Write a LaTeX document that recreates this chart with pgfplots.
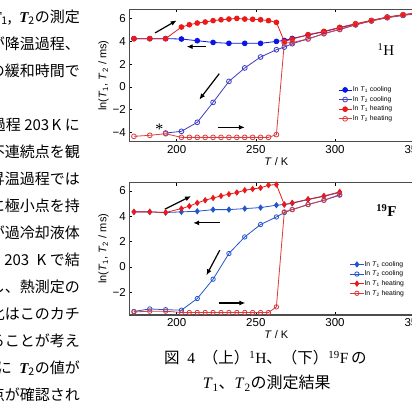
\documentclass[border=0pt]{standalone}
\usepackage{fontspec}
\setmainfont{Liberation Serif}
\setsansfont{Liberation Sans}
\newfontfamily\jp{Noto Sans CJK JP}
\usepackage{pgfplots}
\pgfplotsset{compat=1.18}
\usetikzlibrary{arrows.meta}

\definecolor{cblue}{RGB}{10,20,230}
\definecolor{oblue}{RGB}{60,60,200}
\definecolor{fblue}{RGB}{35,85,210}
\definecolor{cred}{RGB}{235,25,25}
\definecolor{ored}{RGB}{220,60,60}

\tikzset{arr/.style={-{Latex[length=6pt,width=5pt]}, line width=1.2pt, black}}

\pgfplotsset{
  nmr/.style={
    scale only axis, width=294.4pt, height=132.2pt,
    xmin=170, xmax=356, xtick={200,250,300,350},
    axis line style={draw=black!70, line width=1.1pt},
    tick style={black, line width=0.6pt}, major tick length=3pt,
    ticklabel style={font=\sffamily\fontsize{11.5}{11.5}\selectfont},
    /pgf/number format/assume math mode=true,
    xlabel={\textit{T} / K},
    xlabel style={font=\sffamily\fontsize{11}{11}\selectfont, yshift=3pt},
    ylabel={ln(\textit{T}\textsubscript{1}, \textit{T}\textsubscript{2} / ms)},
    ylabel style={font=\sffamily\fontsize{11}{11}\selectfont, yshift=-3pt},
    legend cell align=left,
    legend image code/.code={\draw[mark repeat=2,mark phase=2,##1] plot coordinates {(0pt,0pt) (6.6pt,0pt) (13.2pt,0pt)};},
    legend style={draw=none, fill=none, inner sep=0pt, row sep=1.2pt,
      font=\sffamily\fontsize{6.8}{7}\selectfont,
      nodes={inner sep=1pt}},
  },
}

% one line of the justified text column, right edge at x = 80pt
\newcommand{\bodyline}[2]{\node[anchor=base east, inner sep=0pt, font=\jp\fontsize{15}{15}\selectfont] at (80pt,{401pt-#1pt}) {#2};}
\newcommand{\Tn}[1]{{\rmfamily\bfseries\itshape T}\textsubscript{#1}}

\begin{document}
\begin{tikzpicture}
\useasboundingbox (0,0) rectangle (412pt,401pt);
\clip (0,0) rectangle (412pt,401pt);
\fill[white] (0,0) rectangle (412pt,401pt);

% running text of the page column
\bodyline{22.3}{示す。\Tn{1},\enspace\Tn{2}の測定}
\bodyline{49.3}{青が降温過程、}
\bodyline{76.3}{過程の緩和時間で}
\bodyline{130.3}{降温過程 203\,K に}
\bodyline{157.3}{おいて不連続点を観}
\bodyline{184.3}{た。昇温過程では}
\bodyline{211.3}{付近に極小点を持}
\bodyline{238.3}{試料が過冷却液体}
\bodyline{265.3}{なり、\enspace 203\enspace K で結}
\bodyline{292.3}{化し、熱測定の}
\bodyline{319.3}{変化はこのカチ}
\bodyline{346.3}{よることが考え}
\bodyline{373.3}{特異的に\enspace\Tn{2}の値が}
\bodyline{400.3}{な点が確認され}

% 1H relaxation times
\begin{axis}[nmr, at={(129.2pt,259.3pt)}, anchor=south west,
  ymin=-4.8, ymax=6.8, ytick={-4,-2,0,2,4,6},
  yticklabels={−4,−2,0,2,4,6},
  legend style={at={(0.709,0.425)}, anchor=north west}]
\addplot[cblue, line width=0.8pt, mark=*, mark size=2.4pt] coordinates {
(353,6.52) (343,6.32) (333,6.12) (323,5.82) (313,5.52) (303,5.20) (293,4.85)
(283,4.56) (273,4.26) (268,4.08) (263,4.00) (253,3.83) (243,3.83) (233,3.83)
(223,3.91) (213,4.06) (203,4.21) (193,4.24) (183,4.24) (173,4.24)};
\addlegendentry{ln \textit{T}\textsubscript{1} cooling}
\addplot[oblue, line width=0.8pt, mark=o, mark size=2.4pt] coordinates {
(353,6.45) (343,6.28) (333,6.08) (323,5.80) (313,5.45) (303,5.05) (293,4.68)
(283,4.22) (273,3.80) (268,3.50) (263,3.27) (253,2.63) (243,1.67) (233,0.49)
(223,-1.35) (213,-3.10) (203,-3.89) (193,-4.04)};
\addlegendentry{ln \textit{T}\textsubscript{2} cooling}
\addplot[cred, line width=0.8pt, mark=*, mark size=2.4pt] coordinates {
(173,4.24) (183,4.24) (193,4.24) (203,5.26) (208,5.46) (213,5.61) (218,5.70)
(223,5.82) (228,5.90) (233,5.96) (238,6.02) (243,5.96) (248,5.94) (253,5.90)
(258,5.82) (263,5.67) (268,4.00) (273,4.20) (283,4.59) (293,4.88) (303,5.23)
(313,5.55) (323,5.84) (333,6.14) (343,6.34) (353,6.55)};
\addlegendentry{ln \textit{T}\textsubscript{1} heating}
\addplot[ored, line width=0.8pt, mark=o, mark size=2.4pt] coordinates {
(173,-4.33) (183,-4.24) (193,-4.10) (203,-4.42) (208,-4.42) (213,-4.42)
(218,-4.42) (223,-4.42) (228,-4.42) (233,-4.42) (238,-4.42) (243,-4.42)
(248,-4.42) (253,-4.42) (258,-4.42) (263,-4.18) (268,3.86) (273,3.90)
(283,4.22) (293,4.68) (303,5.06) (313,5.46) (323,5.80) (333,6.10) (343,6.30)
(353,6.48)};
\addlegendentry{ln \textit{T}\textsubscript{2} heating}
\draw[arr] (axis cs:186.3,4.74) -- (axis cs:200,5.84);
\draw[arr] (axis cs:218.5,3.54) -- (axis cs:206.3,3.54);
\draw[arr] (axis cs:226.9,1.17) -- (axis cs:214.3,-1.11);
\draw[arr] (axis cs:226.3,-3.54) -- (axis cs:243.1,-3.54);
\node[font=\fontsize{16}{16}\selectfont, inner sep=0pt] at (axis cs:189,-3.75) {*};
\node[font=\fontsize{15}{15}\selectfont] at (axis cs:332.2,3.27) {\textsuperscript{1}H};
\end{axis}

% 19F relaxation times
\begin{axis}[nmr, at={(129.2pt,86pt)}, anchor=south west,
  ymin=-3.8, ymax=6.65, ytick={-2,0,2,4,6},
  yticklabels={−2,0,2,4,6},
  legend style={at={(0.749,0.416)}, anchor=north west}]
\addplot[fblue, line width=0.8pt, mark=diamond*, mark size=2.6pt] coordinates {
(303,5.88) (293,5.58) (283,5.32) (273,5.03) (268,4.93) (263,4.88) (253,4.69)
(243,4.61) (233,4.53) (223,4.53) (213,4.40) (203,4.35) (193,4.30) (183,4.35)
(173,4.35)};
\addlegendentry{ln \textit{T}\textsubscript{1} cooling}
\addplot[fblue, line width=0.8pt, mark=o, mark size=2.2pt] coordinates {
(303,5.67) (293,5.27) (283,4.93) (273,4.53) (268,4.30) (263,3.95) (253,3.35)
(243,2.37) (233,1.06) (223,-0.97) (213,-2.50) (203,-3.42) (193,-3.38)
(183,-3.32) (173,-3.52)};
\addlegendentry{ln \textit{T}\textsubscript{2} cooling}
\addplot[cred, line width=0.8pt, mark=diamond*, mark size=2.6pt] coordinates {
(173,4.35) (183,4.35) (193,4.30) (203,4.61) (208,4.80) (213,5.06) (218,5.27)
(223,5.45) (228,5.61) (233,5.75) (238,5.88) (243,6.06) (248,6.16) (253,6.25)
(258,6.46) (263,6.51) (268,4.93) (273,5.06) (283,5.35) (293,5.61) (303,5.93)};
\addlegendentry{ln \textit{T}\textsubscript{1} heating}
\addplot[ored, line width=0.8pt, mark=o, mark size=2.2pt] coordinates {
(173,-3.56) (183,-3.50) (193,-3.50) (203,-3.60) (208,-3.60) (213,-3.60)
(218,-3.60) (223,-3.60) (228,-3.60) (233,-3.60) (238,-3.60) (243,-3.60)
(248,-3.60) (253,-3.60) (258,-3.60) (263,-3.16) (268,4.35) (273,4.53)
(283,4.93) (293,5.27) (303,5.72)};
\addlegendentry{ln \textit{T}\textsubscript{2} heating}
\draw[arr] (axis cs:192.5,4.56) -- (axis cs:209.1,5.6);
\draw[arr] (axis cs:227.2,3.48) -- (axis cs:210.4,3.48);
\draw[arr] (axis cs:227.2,1.32) -- (axis cs:218.8,-0.66);
\draw[arr] (axis cs:226.5,-2.85) -- (axis cs:243.4,-2.85);
\node[font=\fontsize{15}{15}\selectfont\bfseries] at (axis cs:332.5,4.43) {\textsuperscript{19}F};
\end{axis}

% figure caption
\node[anchor=base, inner sep=0pt, font=\fontsize{15.5}{15.5}\selectfont] at (265.3pt,{401pt-363.5pt})
  {{\jp 図}\enspace 4\enspace{\jp （上）}\textsuperscript{1}H{\jp 、（下）}\textsuperscript{19}F\,{\jp の}};
\node[anchor=base, inner sep=0pt, font=\fontsize{16}{16}\selectfont] at (266.7pt,{401pt-389pt})
  {\textit{T}\textsubscript{1}{\jp 、}\textit{T}\textsubscript{2}{\jp の測定結果}};
\end{tikzpicture}
\end{document}
